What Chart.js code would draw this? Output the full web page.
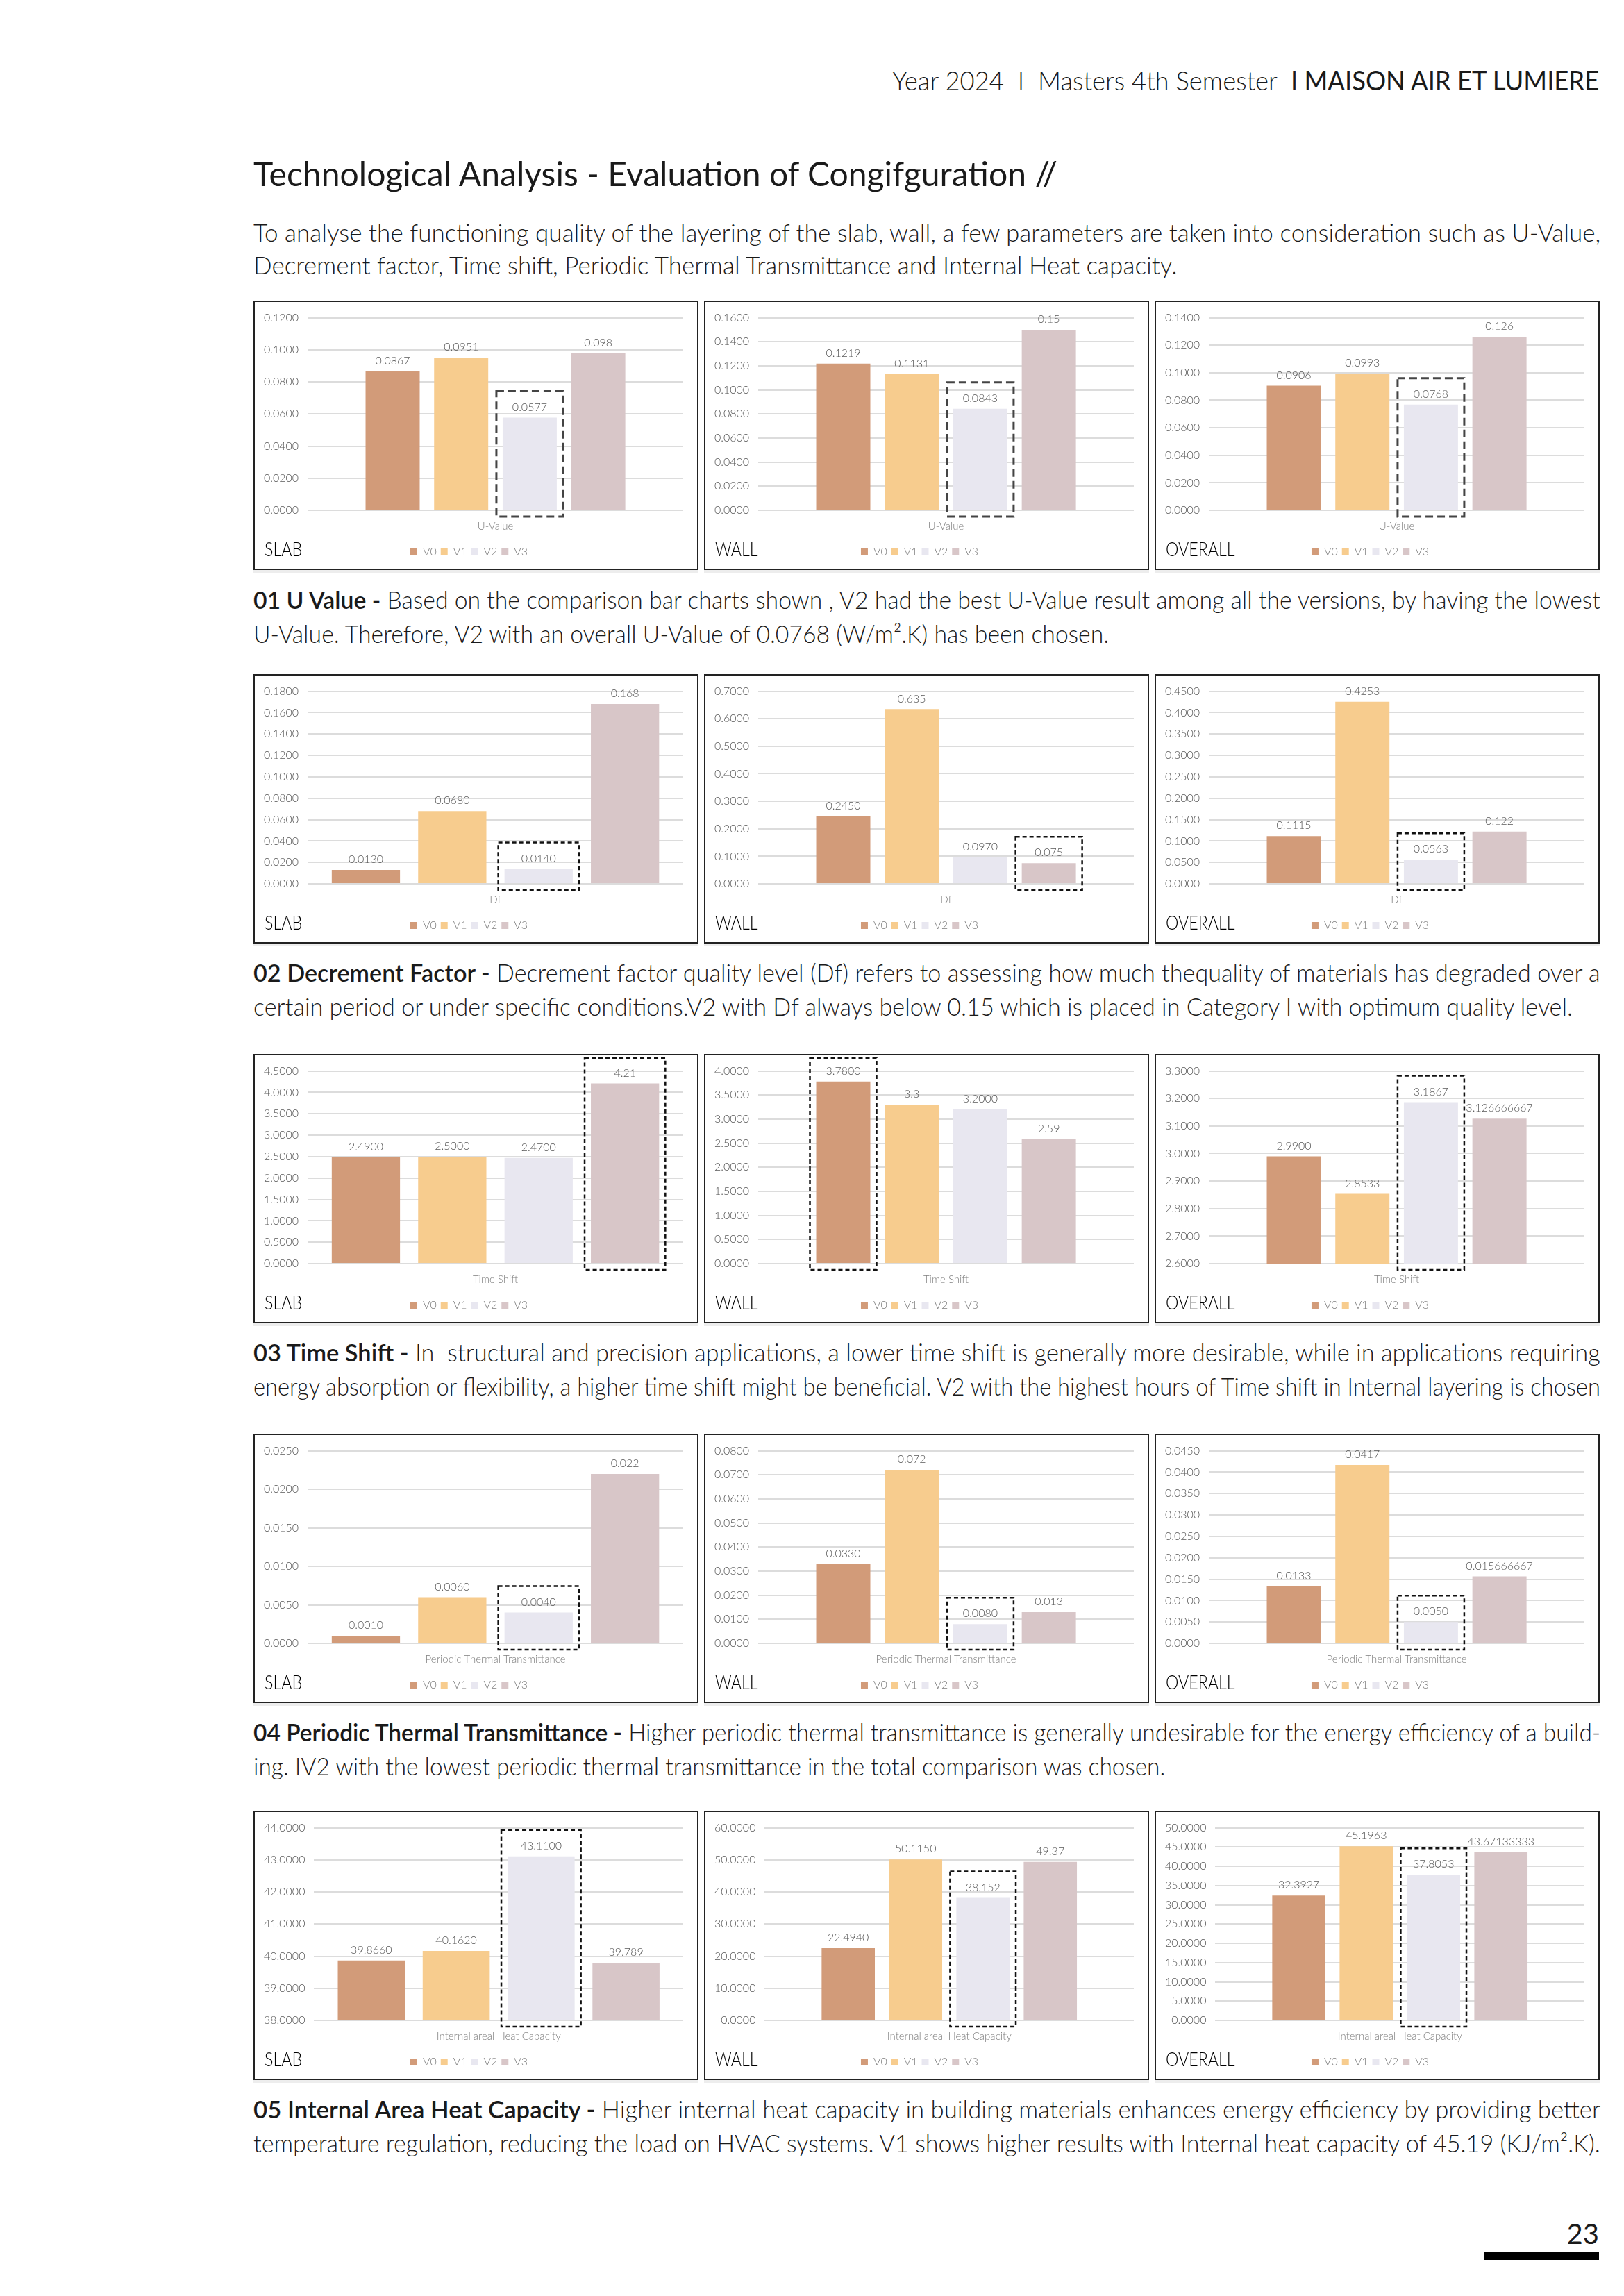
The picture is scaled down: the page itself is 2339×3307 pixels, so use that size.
<!DOCTYPE html>
<html>
<head>
<meta charset="utf-8">
<script src="https://cdn.jsdelivr.net/npm/chart.js@4.4.1/dist/chart.umd.min.js"></script>
<style>
  html, body { margin: 0; padding: 0; background: #fff; }
  body { width: 2339px; height: 3307px; position: relative; overflow: hidden;
         font-family: Lato, "Open Sans", sans-serif; font-weight: 300; color: #1a1a1a; }
  .txt { position: absolute; left: 365px; width: 1940px; }
  .ln { width: max-content; white-space: nowrap; transform-origin: left center; }
  .right .ln { margin-left: auto; transform-origin: right center; }
  .cap { font-size: 35px; line-height: 49px; }
  .cap b { font-weight: 600; }
  .box { position: absolute; width: 641px; height: 388px; border: 2px solid #222;
         box-sizing: border-box; box-shadow: 0 4px 0 #ededed; background: #fff; }
  .box canvas { position: absolute; left: 0; top: 0; }
  .part { position: absolute; left: 14px; top: 340px; font-size: 27px; line-height: 32px;
          color: #000; font-weight: 300; transform: scaleX(0.86); transform-origin: left; }
</style>
</head>
<body>

<div class="txt right" style="top:91px;font-size:38px;line-height:48px;width:1938px">
  <div class="ln" data-fit="1018">Year 2024&nbsp; I&nbsp; Masters 4th Semester&nbsp; <span style="font-weight:400">I MAISON AIR ET LUMIERE</span></div>
</div>

<div class="txt" style="top:220px;font-size:48px;line-height:60px;font-weight:400">
  <div class="ln" data-fit="1158">Technological Analysis - Evaluation of Congifguration //</div>
</div>

<div class="txt para cap" style="top:311px;line-height:47px">
  <div class="ln">To analyse the functioning quality of the layering of the slab, wall, a few parameters are taken into consideration such as U-Value,</div>
  <div class="ln">Decrement factor, Time shift, Periodic Thermal Transmittance and Internal Heat capacity.</div>
</div>

<div class="txt para cap" style="top:839px">
  <div class="ln"><b>01 U Value -</b> Based on the comparison bar charts shown , V2 had the best U-Value result among all the versions, by having the lowest</div>
  <div class="ln">U-Value. Therefore, V2 with an overall U-Value of 0.0768 (W/m².K) has been chosen.</div>
</div>

<div class="txt para cap" style="top:1376px">
  <div class="ln"><b>02 Decrement Factor -</b> Decrement factor quality level (Df) refers to assessing how much thequality of materials has degraded over a</div>
  <div class="ln">certain period or under specific conditions.V2 with Df always below 0.15 which is placed in Category I with optimum quality level.</div>
</div>

<div class="txt para cap" style="top:1923px">
  <div class="ln"><b>03 Time Shift -</b> In&nbsp; structural and precision applications, a lower time shift is generally more desirable, while in applications requiring</div>
  <div class="ln">energy absorption or flexibility, a higher time shift might be beneficial. V2 with the highest hours of Time shift in Internal layering is chosen</div>
</div>

<div class="txt para cap" style="top:2470px">
  <div class="ln"><b>04 Periodic Thermal Transmittance -</b> Higher periodic thermal transmittance is generally undesirable for the energy efficiency of a build-</div>
  <div class="ln">ing. IV2 with the lowest periodic thermal transmittance in the total comparison was chosen.</div>
</div>

<div class="txt para cap" style="top:3013px">
  <div class="ln"><b>05 Internal Area Heat Capacity -</b> Higher internal heat capacity in building materials enhances energy efficiency by providing better</div>
  <div class="ln">temperature regulation, reducing the load on HVAC systems. V1 shows higher results with Internal heat capacity of 45.19 (KJ/m².K).</div>
</div>

<div class="txt right" style="top:3193px;font-size:40px;line-height:48px;width:1938px;font-weight:400">
  <div class="ln">23</div>
</div>
<div style="position:absolute;left:2137px;top:3243px;width:166px;height:12px;background:#000"></div>

<script>
// versions and parts
const versions = ['V0', 'V1', 'V2', 'V3'];
const versionColors = ['#d29b79', '#f7cc8e', '#e8e7f0', '#d8c6c8'];
const parts = ['SLAB', 'WALL', 'OVERALL'];
const metrics = ['U-Value', 'Df', 'Time Shift', 'Periodic Thermal Transmittance', 'Internal areal Heat Capacity'];

// values V0..V3, kept as printed above the bars
const uValueSlab    = ['0.0867', '0.0951', '0.0577', '0.098'];
const uValueWall    = ['0.1219', '0.1131', '0.0843', '0.15'];
const uValueOverall = ['0.0906', '0.0993', '0.0768', '0.126'];

const dfSlab    = ['0.0130', '0.0680', '0.0140', '0.168'];
const dfWall    = ['0.2450', '0.635', '0.0970', '0.075'];
const dfOverall = ['0.1115', '0.4253', '0.0563', '0.122'];

const timeShiftSlab    = ['2.4900', '2.5000', '2.4700', '4.21'];
const timeShiftWall    = ['3.7800', '3.3', '3.2000', '2.59'];
const timeShiftOverall = ['2.9900', '2.8533', '3.1867', '3.126666667'];

const pttSlab    = ['0.0010', '0.0060', '0.0040', '0.022'];
const pttWall    = ['0.0330', '0.072', '0.0080', '0.013'];
const pttOverall = ['0.0133', '0.0417', '0.0050', '0.015666667'];

const heatSlab    = ['39.8660', '40.1620', '43.1100', '39.789'];
const heatWall    = ['22.4940', '50.1150', '38.152', '49.37'];
const heatOverall = ['32.3927', '45.1963', '37.8053', '43.67133333'];

// y axis [min, max, step] for slab, wall, overall
const uValueAxis    = [[0, 0.12, 0.02], [0, 0.16, 0.02], [0, 0.14, 0.02]];
const dfAxis        = [[0, 0.18, 0.02], [0, 0.7, 0.1], [0, 0.45, 0.05]];
const timeShiftAxis = [[0, 4.5, 0.5], [0, 4, 0.5], [2.6, 3.3, 0.1]];
const pttAxis       = [[0, 0.025, 0.005], [0, 0.08, 0.01], [0, 0.045, 0.005]];
const heatAxis      = [[38, 44, 1], [0, 60, 10], [0, 50, 5]];

// version framed with a dashed box, per part
const uValueChosen    = [2, 2, 2];
const dfChosen        = [2, 3, 2];
const timeShiftChosen = [3, 0, 2];
const pttChosen       = [2, 2, 2];
const heatChosen      = [2, 2, 2];

const rows = [
  { metric: metrics[0], values: [uValueSlab, uValueWall, uValueOverall], axis: uValueAxis, chosen: uValueChosen },
  { metric: metrics[1], values: [dfSlab, dfWall, dfOverall], axis: dfAxis, chosen: dfChosen },
  { metric: metrics[2], values: [timeShiftSlab, timeShiftWall, timeShiftOverall], axis: timeShiftAxis, chosen: timeShiftChosen },
  { metric: metrics[3], values: [pttSlab, pttWall, pttOverall], axis: pttAxis, chosen: pttChosen },
  { metric: metrics[4], values: [heatSlab, heatWall, heatOverall], axis: heatAxis, chosen: heatChosen },
];

// page placement
const rowTops = [433, 971, 1518, 2065, 2608];
const colLefts = [365, 1014, 1663];

Chart.defaults.font.family = 'Lato, "Open Sans", sans-serif';
Chart.defaults.font.weight = 300;

const valueLabels = {
  id: 'valueLabels',
  afterDatasetsDraw(chart) {
    const ctx = chart.ctx;
    ctx.save();
    ctx.font = '300 16px Lato, "Open Sans", sans-serif';
    ctx.fillStyle = '#595959';
    ctx.textAlign = 'center';
    ctx.textBaseline = 'bottom';
    chart.data.datasets.forEach((ds, i) => {
      const bar = chart.getDatasetMeta(i).data[0];
      ctx.fillText(ds.printed, bar.x, bar.y - 7);
    });
    ctx.restore();
  }
};

const chosenFrame = {
  id: 'chosenFrame',
  afterDatasetsDraw(chart, args, opts) {
    const bar = chart.getDatasetMeta(opts.index).data[0];
    const ctx = chart.ctx;
    const half = bar.width / 2 + 9;
    const top = Math.max(bar.y - 38, 4);
    const bottom = chart.scales.y.bottom + 9;
    ctx.save();
    ctx.setLineDash(opts.dash);
    ctx.lineWidth = opts.width;
    ctx.strokeStyle = opts.color;
    ctx.strokeRect(bar.x - half, top, half * 2, bottom - top);
    ctx.restore();
  }
};

rows.forEach((row, r) => {
  parts.forEach((part, c) => {
    const box = document.createElement('div');
    box.className = 'box';
    box.style.left = colLefts[c] + 'px';
    box.style.top = rowTops[r] + 'px';
    const canvas = document.createElement('canvas');
    canvas.width = 637;
    canvas.height = 384;
    box.appendChild(canvas);
    const label = document.createElement('div');
    label.className = 'part';
    label.textContent = part;
    box.appendChild(label);
    document.body.appendChild(box);

    const [min, max, step] = row.axis[c];
    const wide = c === 0 && r > 0;   // slab charts below the first row use wider bars
    new Chart(canvas, {
      type: 'bar',
      data: {
        labels: [row.metric],
        datasets: versions.map((v, i) => ({
          label: v,
          data: [Number(row.values[c][i])],
          printed: row.values[c][i],
          backgroundColor: versionColors[i],
          barPercentage: 0.79,
          categoryPercentage: wide ? 0.92 : 0.73,
        })),
      },
      options: {
        responsive: false,
        animation: false,
        layout: { padding: { left: 0, right: 20, top: 8, bottom: 6 } },
        scales: {
          x: {
            grid: { display: false, drawTicks: false },
            border: { display: false },
            ticks: { color: '#7f7f7f', font: { size: 15 }, padding: 14 },
          },
          y: {
            min, max,
            grid: { color: '#dcdcdc', lineWidth: 2, drawTicks: false },
            border: { display: false },
            ticks: { stepSize: step, color: '#595959', font: { size: 16 }, padding: 13,
                     callback: v => Number(v).toFixed(4) },
          },
        },
        plugins: {
          legend: {
            position: 'bottom',
            labels: { boxWidth: 10, boxHeight: 10, color: '#7f7f7f', font: { size: 16 }, padding: 6 },
          },
          tooltip: { enabled: false },
          chosenFrame: r === 0
            ? { index: row.chosen[c], dash: [11, 6], width: 3, color: '#444' }
            : { index: row.chosen[c], dash: [6, 4], width: 2.5, color: '#111' },
        },
      },
      plugins: [valueLabels, chosenFrame],
    });
  });
});

// squeeze text lines to the reference's widths (narrow Futura-like face)
function fitText() {
  document.querySelectorAll('.ln[data-fit]').forEach(l => {
    l.style.transform = `scaleX(${Number(l.dataset.fit) / l.offsetWidth})`;
  });
  document.querySelectorAll('.para').forEach(p => {
    const lines = [...p.querySelectorAll('.ln')];
    const W = 1940;
    const s = W / lines[0].offsetWidth;
    lines.forEach(l => {
      const k = Math.min(s, W / l.offsetWidth);
      l.style.transform = `scaleX(${k})`;
    });
  });
}
document.fonts.ready.then(fitText);
fitText();
</script>
</body>
</html>
